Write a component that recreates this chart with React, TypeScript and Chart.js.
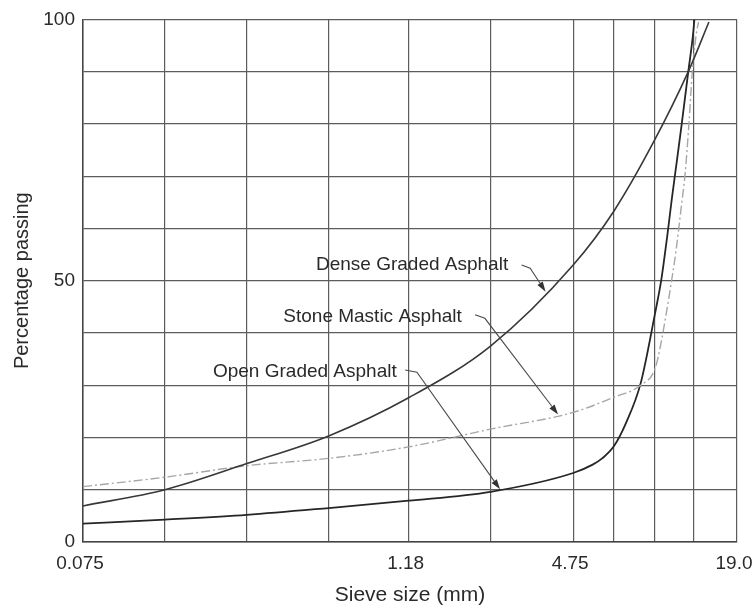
import React, { useEffect, useRef } from 'react';
import { Chart, registerables } from 'chart.js';

Chart.register(...registerables);

// Sieve sizes (mm) where vertical grid lines are drawn
const sieveGrid = [0.075, 0.15, 0.3, 0.6, 1.18, 2.36, 4.75, 6.7, 9.5, 13.2, 19];
const xTickValues = [0.075, 1.18, 4.75, 19];
const xTickLabels = ['0.075', '1.18', '4.75', '19.0'];
const yLabelledTicks = [0, 50, 100];

// Dense Graded Asphalt
const denseSieve = [0.075, 0.15, 0.3, 0.6, 1.18, 2.36, 4.75, 6.7, 9.35, 12.58, 14.98];
const densePassing = [6.9, 10.0, 15.0, 20.3, 27.6, 37.5, 53, 63.3, 76.4, 90, 99.5];

// Stone Mastic Asphalt
const smaSieve = [0.075, 0.15, 0.3, 0.6, 1.18, 2.36, 4.75, 6.7, 8.41, 9.5, 10.0, 10.39, 10.93, 11.35, 11.85, 12.25, 12.64, 13.0, 13.42, 13.72];
const smaPassing = [10.6, 12.4, 14.6, 16.0, 18.2, 21.6, 24.8, 27.7, 30, 33.2, 38.2, 43.1, 50.1, 55.9, 64.0, 70.5, 79.8, 89.5, 96.7, 99.5];

// Open Graded Asphalt
const openSieve = [0.075, 0.15, 0.3, 0.6, 1.18, 2.36, 4.75, 5.6, 6.07, 6.7, 7.43, 8.41, 9.5, 10.0, 10.52, 10.93, 11.22, 11.89, 12.58, 13.07, 13.25];
const openPassing = [3.5, 4.3, 5.2, 6.5, 7.9, 9.6, 13.2, 14.8, 16.0, 18.3, 22.8, 30.4, 43.8, 50, 58.4, 65.4, 69.9, 79.8, 90, 96.7, 100];

// Callout labels (anchor in data units: sieve mm, % passing)
const callouts = [
  { text: 'Dense Graded Asphalt', at: [2.74, 53.0], leader: [[3.07, 53.0], [3.3, 52.4], [3.76, 47.9]] },
  { text: 'Stone Mastic Asphalt', at: [1.85, 43.1], leader: [[2.07, 43.5], [2.25, 42.8], [4.18, 24.4]] },
  { text: 'Open Graded Asphalt', at: [1.067, 32.6], leader: [[1.146, 32.9], [1.266, 32.5], [2.557, 10.1]] },
];

const FONT = '"Liberation Sans", Arial, Helvetica, sans-serif';
const TEXT = '#2a2a2a';
const GRID = '#5c5c5c';

const toPts = (xs: number[], ys: number[]) => xs.map((x, i) => ({ x, y: ys[i] }));

const calloutPlugin = {
  id: 'callouts',
  afterDatasetsDraw(chart: any) {
    const { ctx, scales } = chart;
    const xs = scales.x;
    const ys = scales.y;
    ctx.save();
    ctx.font = `19px ${FONT}`;
    ctx.fillStyle = TEXT;
    ctx.textAlign = 'right';
    ctx.textBaseline = 'middle';
    for (const c of callouts) {
      ctx.fillText(c.text, xs.getPixelForValue(c.at[0]), ys.getPixelForValue(c.at[1]));
      const pts = c.leader.map((p) => [xs.getPixelForValue(p[0]), ys.getPixelForValue(p[1])]);
      const tip = pts[pts.length - 1];
      const prev = pts[pts.length - 2];
      const dx = tip[0] - prev[0];
      const dy = tip[1] - prev[1];
      const len = Math.hypot(dx, dy);
      const ux = dx / len;
      const uy = dy / len;
      const headLen = 10;
      const headW = 3.2;
      const baseX = tip[0] - ux * headLen;
      const baseY = tip[1] - uy * headLen;
      ctx.strokeStyle = '#4a4a4a';
      ctx.lineWidth = 1.1;
      ctx.beginPath();
      ctx.moveTo(pts[0][0], pts[0][1]);
      for (let i = 1; i < pts.length - 1; i++) ctx.lineTo(pts[i][0], pts[i][1]);
      ctx.lineTo(baseX, baseY);
      ctx.stroke();
      ctx.fillStyle = '#333';
      ctx.beginPath();
      ctx.moveTo(tip[0], tip[1]);
      ctx.lineTo(baseX - uy * headW, baseY + ux * headW);
      ctx.lineTo(baseX + uy * headW, baseY - ux * headW);
      ctx.closePath();
      ctx.fill();
      ctx.fillStyle = TEXT;
    }
    ctx.restore();
  },
};

export default function App() {
  const ref = useRef<HTMLCanvasElement | null>(null);

  useEffect(() => {
    const canvas = ref.current;
    if (!canvas) return;
    const chart = new Chart(canvas, {
      type: 'line',
      data: {
        datasets: [
          {
            label: 'Dense Graded Asphalt',
            data: toPts(denseSieve, densePassing),
            borderColor: '#383838',
            borderWidth: 1.6,
            pointRadius: 0,
            cubicInterpolationMode: 'monotone',
            fill: false,
          },
          {
            label: 'Stone Mastic Asphalt',
            data: toPts(smaSieve, smaPassing),
            borderColor: '#a6a6a6',
            borderWidth: 1.4,
            borderDash: [9, 3, 2, 3],
            pointRadius: 0,
            cubicInterpolationMode: 'monotone',
            fill: false,
          },
          {
            label: 'Open Graded Asphalt',
            data: toPts(openSieve, openPassing),
            borderColor: '#262626',
            borderWidth: 1.8,
            pointRadius: 0,
            cubicInterpolationMode: 'monotone',
            fill: false,
          },
        ],
      },
      options: {
        responsive: false,
        animation: false,
        layout: { padding: { top: 19, right: 16, bottom: 0, left: 0 } },
        plugins: { legend: { display: false }, tooltip: { enabled: false } },
        scales: {
          x: {
            type: 'logarithmic',
            min: 0.075,
            max: 19,
            afterBuildTicks: (s: any) => {
              s.ticks = sieveGrid.map((v) => ({ value: v }));
            },
            afterFit: (s: any) => {
              s.height = 64;
              s.paddingLeft = 0;
              s.paddingRight = 0;
            },
            grid: { color: GRID, lineWidth: 1.2, drawTicks: false },
            border: { color: '#444', width: 1.5 },
            ticks: {
              autoSkip: false,
              maxRotation: 0,
              minRotation: 0,
              padding: 10,
              labelOffset: -3,
              color: TEXT,
              font: { family: FONT, size: 19 },
              callback: (v: any) => {
                const i = xTickValues.indexOf(Number(v));
                return i >= 0 ? xTickLabels[i] : '';
              },
            },
            title: {
              display: true,
              text: 'Sieve size (mm)',
              color: TEXT,
              font: { family: FONT, size: 21, lineHeight: 1 },
              padding: 0,
            },
          },
          y: {
            min: 0,
            max: 100,
            afterFit: (s: any) => {
              s.width = 83;
            },
            grid: { color: GRID, lineWidth: 1.2, drawTicks: false },
            border: { color: '#444', width: 1.5 },
            ticks: {
              stepSize: 10,
              autoSkip: false,
              padding: 8,
              color: TEXT,
              font: { family: FONT, size: 19 },
              callback: (v: any) => (yLabelledTicks.includes(Number(v)) ? String(v) : ''),
            },
            title: {
              display: true,
              text: 'Percentage passing',
              color: TEXT,
              font: { family: FONT, size: 20, lineHeight: 1.2 },
              padding: { top: 10, bottom: 0 },
            },
          },
        },
      },
      plugins: [calloutPlugin],
    } as any);
    return () => chart.destroy();
  }, []);

  return (
    <div style={{ position: 'absolute', left: 0, top: 0, width: 753, height: 606, background: '#fff' }}>
      <canvas ref={ref} width={753} height={606} style={{ display: 'block' }} />
    </div>
  );
}
